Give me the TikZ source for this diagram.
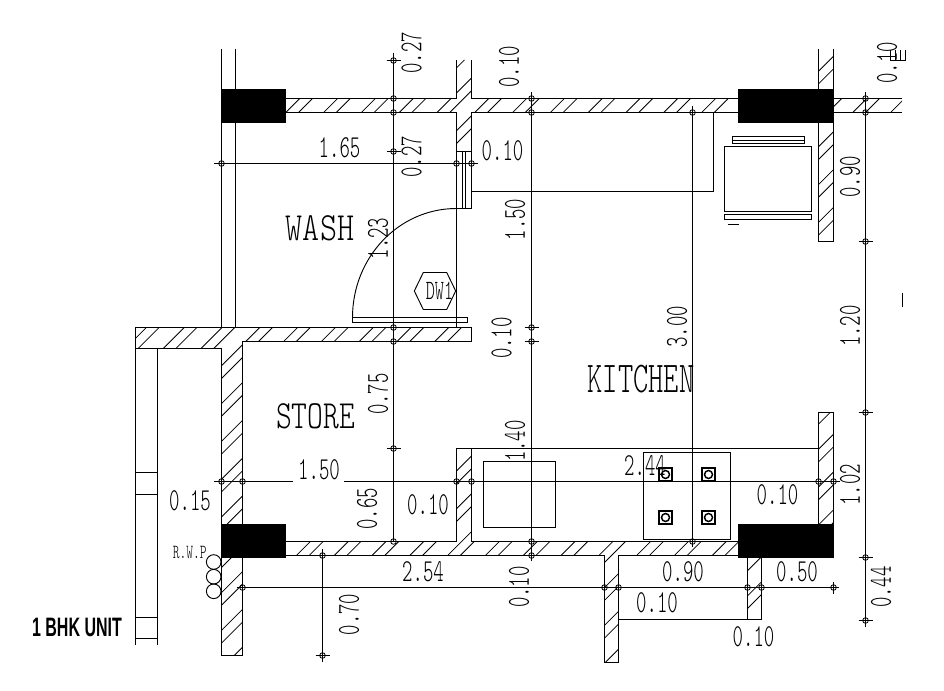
\documentclass[tikz,border=0pt]{standalone}
\usepackage{fontspec}
\usepackage{graphicx}
\setmainfont{Liberation Sans}
\newfontfamily\cadfont{Latin Modern Mono Light}
\tikzset{
  x=0.75pt,y=-0.75pt,
  wall/.style={line width=0.8pt,black},
  hatchln/.style={line width=0.6pt,black},
  dimln/.style={line width=0.75pt,black},
  label/.style={inner sep=0pt,outer sep=0pt,black},
}
\newcommand\dimt[5]{\node[label,rotate=#4] (#1) at (#2,#3) {\scalebox{.62}[1]{\fontsize{24}{25}\cadfont\selectfont #5}};}
\newcommand\room[6]{\node[label] (#1) at (#2,#3) {\scalebox{#5}[1]{\fontsize{#6}{#6}\cadfont\selectfont #4}};}
\newcommand\mk[2]{\draw[dimln,line width=0.6pt] (#1,#2) circle[radius=2.8];}
\newcommand\hmk[3]{\draw[dimln] (#1-#3,#2) -- (#1+#3,#2);}
\newcommand\vmk[3]{\draw[dimln] (#1,#2-#3) -- (#1,#2+#3);}
\begin{document}
\begin{tikzpicture}
\useasboundingbox (0,0) rectangle (944,691);
\fill[white] (0,0) rectangle (944,691);
% hatching
\begin{scope}
\clip (286,98.5) rectangle (738,112.5)
 (456.5,60) rectangle (471.5,151.5)
 (833,98.5) rectangle (902,112.5)
 (818.5,49) rectangle (833.5,89)
 (818.5,122.6) rectangle (833.5,241.5)
 (135.5,327.5) rectangle (471.5,341.5)
 (135.5,341.5) rectangle (221.5,348.5)
 (221.5,341) rectangle (242.5,524)
 (221.5,558) rectangle (242.5,655.5)
 (286,541.5) rectangle (738,555.5)
 (456.5,448.5) rectangle (471.5,541.5)
 (818.5,412.5) rectangle (833.5,524)
 (604.5,555.5) rectangle (618.5,662.5)
 (747.5,557.5) rectangle (761.5,619.5);
\foreach \k in {0,...,38}{
  \pgfmathsetmacro\ca{20.3+\k*37.8}
  \pgfmathsetmacro\cb{\ca+12.7}
  \draw[hatchln] (\ca,0) -- (\ca-700,700);
  \draw[hatchln] (\cb,0) -- (\cb-700,700);
}
\end{scope}
% walls
\draw[wall] (286,98.5)--(456.5,98.5)--(456.5,60.5) (471.5,60.5)--(471.5,98.5)--(738,98.5);
\draw[wall] (286,112.5)--(456.5,112.5)--(456.5,327.5) (471.5,151.5)--(471.5,112.5)--(738,112.5);
\draw[wall] (456.5,151.5) rectangle (471.5,208.5);
\draw[wall,line width=0.7pt] (462.5,151.5)--(462.5,208.5) (465.5,151.5)--(465.5,208.5);
\draw[wall] (471.5,191.5)--(713.5,191.5)--(713.5,112.5);
\draw[wall] (834,98.5)--(902,98.5) (834,112.5)--(902,112.5);
\draw[wall] (818.5,49)--(818.5,89) (833.5,49)--(833.5,89);
\draw[wall] (818.5,122.6)--(818.5,241.5)--(833.5,241.5)--(833.5,122.6);
\draw[wall] (221.5,49)--(221.5,327.5) (235.5,49)--(235.5,327.5);
\draw[wall] (221.5,524)--(221.5,348.5)--(135.5,348.5)--(135.5,327.5)--(471.5,327.5)--(471.5,341.5)--(242.5,341.5)--(242.5,524);
\draw[wall] (221.5,558)--(221.5,655.5)--(242.5,655.5)--(242.5,558);
\draw[wall] (135.5,348.5)--(135.5,644.5) (157.5,348.5)--(157.5,644.5);
\draw[wall] (135.5,472.5)--(157.5,472.5) (135.5,494.5)--(157.5,494.5) (135.5,617.5)--(157.5,617.5) (135.5,638.5)--(157.5,638.5);
\draw[wall] (286,541.5)--(456.5,541.5)--(456.5,448.5)--(818.5,448.5) (471.5,448.5)--(471.5,541.5)--(738,541.5);
\draw[wall] (286,555.5)--(604.5,555.5)--(604.5,662.5)--(618.5,662.5)--(618.5,555.5)--(738,555.5);
\draw[wall] (618.5,619.5)--(761.5,619.5)--(761.5,557.5) (747.5,557.5)--(747.5,619.5);
\draw[wall] (818.5,524)--(818.5,412.5)--(833.5,412.5)--(833.5,524);
% columns
\fill[black] (222,89) rectangle (286,122.6);
\fill[black] (738,89) rectangle (834,122.6);
\fill[black] (221,524) rectangle (286,558);
\fill[black] (738,524) rectangle (834,557.5);
% door
\draw[wall] (352.5,317.5) rectangle (467.5,322.5);
\draw[wall,line width=0.7pt] (352.5,317.5) .. controls (352.5,257.4) and (398.7,208.5) .. (456.5,208.5);
% hexagon
\draw[wall,line width=0.7pt] (414.3,291)--(423.3,272.5)--(446.7,272.5)--(455.7,291)--(446.7,309.5)--(423.3,309.5)--cycle;
% fridge
\draw[wall] (724.5,146.5) rectangle (811.5,211.5);
\draw[wall] (724.5,214.5) rectangle (811.5,219.5);
\draw[wall] (732.5,136.5) rectangle (804.5,143.5);
\draw[wall] (732.5,140.5) -- (804.5,140.5);
\draw[wall] (727.5,224.5) -- (739,224.5);
% sink, hob
\draw[wall] (483.5,461.5) rectangle (555.5,527.5);
\draw[wall] (643.5,452.5) rectangle (730.5,539.5);
\foreach \bx/\by in {665.5/474.5,708.5/474.5,665.5/517.5,708.5/517.5}{
  \draw[wall,line width=0.7pt] (\bx-7,\by-7) rectangle (\bx+7,\by+7);
  \draw[wall,line width=0.5pt] (\bx-5.7,\by-5.7) rectangle (\bx+5.7,\by+5.7);
  \draw[line width=1.1pt] (\bx,\by) circle[radius=4];
}
% RWP circles
\foreach \cy in {562,576.7,591.3}{\draw[wall,line width=0.7pt] (213.7,\cy) circle[radius=7.3];}
% dimension lines
\draw[dimln] (393.5,53)--(393.5,541.5);
\mk{393.5}{60.5}\mk{393.5}{98.5}\mk{393.5}{112.5}\mk{393.5}{151.5}\mk{393.5}{327.5}\mk{393.5}{341.5}\mk{393.5}{448.5}\mk{393.5}{541.5}
\hmk{393.5}{60.5}{7}\hmk{393.5}{151.5}{7}\hmk{393.5}{448.5}{7}
\draw[dimln] (214,163.5)--(477.7,163.5);
\mk{221.5}{163.5}\mk{456.5}{163.5}\mk{471.5}{163.5}
\draw[dimln] (531.5,92)--(531.5,561);
\mk{531.5}{98.5}\mk{531.5}{112.5}\mk{531.5}{327.5}\mk{531.5}{341.5}\mk{531.5}{541.5}\mk{531.5}{555.5}
\hmk{531.5}{327.5}{7}\hmk{531.5}{341.5}{7}
\draw[dimln] (692.5,106)--(692.5,547);
\mk{692.5}{112.5}\mk{692.5}{541.5}
\draw[dimln] (865.5,92)--(865.5,626.7);
\mk{865.5}{98.5}\mk{865.5}{112.5}\mk{865.5}{241.5}\mk{865.5}{412.5}\mk{865.5}{557.5}\mk{865.5}{620.5}
\hmk{865.5}{241.5}{7}\hmk{865.5}{412.5}{7}\hmk{865.5}{557.5}{7}\hmk{865.5}{620.5}{7}
\draw[dimln] (214,481.5)--(292.7,481.5) (344,481.5)--(840,481.5);
\mk{221.5}{481.5}\mk{242.5}{481.5}\mk{456.5}{481.5}\mk{471.5}{481.5}\mk{818.5}{481.5}\mk{833.5}{481.5}
\draw[dimln] (236.7,587.5)--(839.3,587.5);
\mk{242.5}{587.5}\mk{604.5}{587.5}\mk{618.5}{587.5}\mk{747.5}{587.5}\mk{761.5}{587.5}\mk{833.5}{587.5}
\vmk{833.5}{587.5}{6}
\draw[dimln] (322.5,549.3)--(322.5,661.7);
\mk{322.5}{555.5}\mk{322.5}{655.5}\hmk{322.5}{655.5}{7}
% stray marks
\draw[wall] (902.5,293)--(902.5,307);
\draw[wall,line width=0.7pt] (890.5,50)--(890.5,60.5)--(905.5,60.5)--(905.5,50) (895.5,50)--(895.5,60.5) (900.5,50)--(900.5,60.5);
% labels
\dimt{a1}{411.5}{53}{90}{0.27}
\dimt{a2}{509}{66.7}{90}{0.10}
\dimt{a3}{887}{62.7}{90}{0.10}
\dimt{a4}{339.5}{148}{0}{1.65}
\dimt{a5}{411.5}{157}{90}{0.27}
\dimt{a6}{502.5}{151}{0}{0.10}
\dimt{a7}{515}{219.5}{90}{1.50}
\dimt{a8}{378}{238.5}{90}{1.23}
\dimt{a9}{850}{177}{90}{0.90}
\dimt{a10}{850}{326}{90}{1.20}
\dimt{a11}{677}{326.7}{90}{3.00}
\dimt{a12}{501.5}{338}{90}{0.10}
\dimt{a13}{378}{394}{90}{0.75}
\dimt{a14}{319}{469.5}{0}{1.50}
\dimt{a15}{367}{508.7}{90}{0.65}
\dimt{a16}{428}{504.7}{0}{0.10}
\dimt{a17}{190}{501}{0}{0.15}
\dimt{a18}{423}{572}{0}{2.54}
\dimt{a19}{349}{614.5}{90}{0.70}
\dimt{a20}{515}{441}{90}{1.40}
\dimt{a21}{645}{466}{0}{2.44}
\dimt{a22}{777.5}{495}{0}{0.10}
\dimt{a23}{850}{484.7}{90}{1.02}
\dimt{a24}{881}{587}{90}{0.44}
\dimt{a25}{519}{587}{90}{0.10}
\dimt{a26}{683}{572}{0}{0.90}
\dimt{a27}{797}{572}{0}{0.50}
\dimt{a28}{657}{603}{0}{0.10}
\dimt{a29}{753.5}{637}{0}{0.10}
\room{wash}{320}{228}{WASH}{.81}{30}
\room{store}{315.5}{416}{STORE}{.75}{30}
\room{kitchen}{641}{379}{KITCHEN}{.66}{33}
\room{dw}{439.5}{291}{DW1}{.62}{21}
\room{rwp}{189.7}{552.5}{R.W.P}{.64}{15}
\node[label] (unit) at (77,627.5) {\scalebox{.6}[1]{\fontsize{20}{21}\selectfont\bfseries 1 BHK UNIT}};
\end{tikzpicture}
\end{document}
